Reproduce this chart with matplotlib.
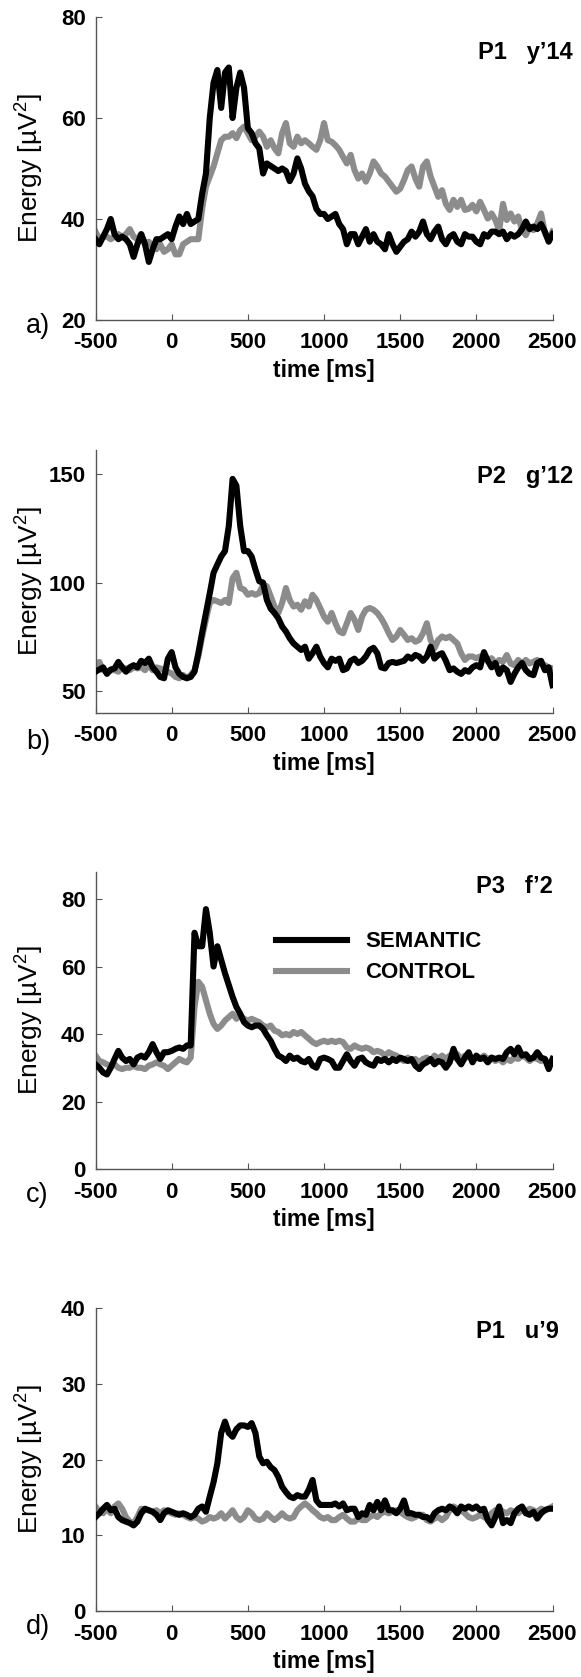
import numpy as np
import matplotlib
matplotlib.use("Agg")
from matplotlib import pyplot as plt

plt.rcParams['font.family'] = ['Liberation Sans', 'DejaVu Sans']
plt.rcParams['mathtext.fontset'] = 'custom'
plt.rcParams['mathtext.rm'] = 'Liberation Sans'
plt.rcParams['axes.unicode_minus'] = False

# time axis, sampled every 25 ms
t = np.arange(-500, 2501, 25)

# a) P1 y'14
a_sem = [36, 35, 36.5, 38, 40, 37, 36, 36.5, 36, 35,
         32.5, 35, 37, 35, 31.5, 34, 36, 36, 36.5, 37,
         36, 38.5, 40.5, 39, 41, 39, 39.5, 40, 45, 49,
         60, 67, 69.5, 62, 69, 70, 60, 66, 69, 66,
         58, 57, 55, 54, 49, 51, 50.5, 50, 49.5, 50,
         49.5, 47.5, 49, 52, 50, 47, 45.5, 44.5, 42, 41,
         41, 40, 40.5, 41, 39, 38, 35, 37, 37, 35,
         36.5, 38, 35.5, 37, 35.5, 35, 34, 37, 35, 33.5,
         34.5, 35.5, 36, 37.5, 36.5, 37.5, 39.5, 37, 36, 37.5,
         38.5, 36, 35, 36.5, 37, 35.5, 35, 37, 36.5, 36.5,
         35.5, 35, 37, 36.5, 37.5, 37.5, 37, 37.5, 36, 37,
         36.5, 37, 38, 39.5, 38, 38.5, 38, 39, 37.5, 35.5,
         37]
a_ctl = [37.5, 36, 36.5, 36.5, 36, 36.5, 37, 36.5, 37, 38,
         36.5, 36, 37, 35, 35.5, 34.5, 34, 35, 33.5, 34,
         35, 33, 33, 35, 35.5, 36, 36, 36, 42, 46.4,
         48.4, 50.4, 53, 55.6, 56.3, 56.3, 57, 56, 57.6, 58.3,
         57, 55.6, 56.3, 57.3, 56.3, 54.3, 55.6, 54, 53, 57,
         59, 55, 54.3, 56.3, 55, 55.6, 55, 54.3, 53.7, 55.6,
         59, 55.6, 55.3, 54.6, 53.7, 52.3, 51, 52.7, 49.7, 48,
         49, 47.4, 49, 51.4, 50.4, 49, 48.4, 47.4, 46.4, 45.4,
         46, 47.7, 49.7, 50.4, 48, 46.4, 50.4, 51.4, 48.4, 46.4,
         44.4, 45.7, 43, 41.8, 43.8, 42.4, 43.8, 41.8, 42, 42.8,
         41.5, 43.4, 41.8, 40.1, 41.1, 39.8, 37.8, 43, 39.8, 41.1,
         39.5, 40.5, 37.8, 36.8, 38.5, 37.8, 39.1, 41.1, 37.2, 35.8,
         37.5]

# b) P2 g'12
b_sem = [59, 60, 61, 58, 60, 60.5, 63.5, 61, 59, 61,
         62, 61, 64, 63, 65, 61, 59, 56.6, 56, 65,
         68, 61, 58, 56.6, 56, 56.6, 59, 67.5, 77, 86,
         95, 104.5, 108.3, 112, 114.5, 126, 147.7, 144.6, 126, 114.5,
         114.5, 112, 106, 100.6, 100, 92, 88, 86, 83.6, 79.8,
         77.5, 74.4, 72, 70.5, 69, 70.5, 65, 67.5, 70.5, 66,
         63, 61, 65, 64, 65, 59.7, 60.5, 64, 65, 63,
         64, 66, 69, 70, 67.5, 61, 60.5, 63, 63.5, 63,
         63.5, 64, 66, 65, 66.7, 66, 64, 66, 70.5, 65,
         66.7, 67.5, 64, 59.7, 60.5, 59, 58, 59.7, 59, 61,
         62, 61, 68, 64, 61, 63, 58, 61, 59.7, 54.3,
         58, 61, 63, 59.7, 58, 57.4, 63, 64, 59.7, 61,
         52.8]
b_ctl = [60.5, 63.5, 59.7, 59, 59.7, 59.7, 59, 61, 60.5, 59.7,
         61, 60.5, 61, 59.7, 62, 59.7, 61, 60.5, 59.7, 59,
         58.2, 56.6, 56, 57.5, 56, 57.5, 59.7, 66, 75, 83,
         90.6, 92, 91.4, 90.6, 92, 90.6, 102, 104.5, 97.5, 96.8,
         94.4, 95.2, 94.4, 95.2, 99, 98.3, 93.7, 89, 86, 90.6,
         97.5, 92, 89, 89.8, 87.5, 91.4, 89, 94.4, 92, 88.3,
         84.4, 82, 86, 81.3, 77.5, 76.7, 81.3, 86, 83, 78.2,
         84.4, 87.5, 88.3, 87.5, 86, 83.6, 80.5, 76.7, 73.6, 75.2,
         78.2, 76, 73.6, 74.4, 72.8, 73.6, 76.7, 81.3, 73.6, 69.8,
         73.6, 75.2, 74.4, 75.2, 73.6, 72, 67.5, 64.4, 66, 66,
         65.2, 66, 65.2, 64.4, 65.2, 62.8, 64.4, 63.6, 66.7, 62.8,
         62, 64.4, 62.8, 64.4, 62.8, 63.6, 64.4, 62.8, 62, 61,
         60.5]

# c) P3 f'2
c_sem = [31, 30, 28.6, 28, 30, 32.6, 35, 33, 32, 32.6,
         31, 33, 33.6, 33, 34.6, 37, 34.6, 32.6, 34.6, 34.6,
         35, 35.6, 36, 35.6, 36.6, 36.6, 70, 66, 66, 77,
         70, 60, 66, 62, 58, 54.5, 51, 48, 46, 43.5,
         42.5, 42, 42.5, 42.5, 41.5, 39.6, 38, 35.6, 33.6, 33,
         32, 33.6, 32.6, 33, 32, 31.6, 32.6, 30.6, 30, 32.6,
         33, 32.6, 32, 30, 30, 32, 34, 32, 30.6, 32.6,
         33, 31.6, 31, 30.6, 32.6, 32, 32.6, 31.6, 32.6, 32,
         33, 32.6, 32, 32.6, 30.6, 29.6, 31, 31.6, 32.6, 31,
         32, 31.6, 30, 31.6, 35.6, 32.6, 31, 33, 34.6, 31.6,
         33.6, 32.6, 33, 31.6, 33, 32.6, 33, 32.6, 34.6, 35.6,
         34, 36, 33.6, 34, 32.6, 33, 34.6, 33, 32.6, 29.6,
         32.6]
c_ctl = [33.6, 32, 31.6, 31, 30.6, 31, 30, 29.6, 30, 30,
         30.6, 30, 30, 29.6, 30.6, 31, 31.6, 31, 30.6, 29.6,
         30.6, 31.6, 32.6, 32, 31.6, 33, 48, 55.5, 54, 50,
         46, 43, 41.5, 42.5, 44, 45, 46, 44.5, 45.5, 44.5,
         44, 44.5, 44, 43.5, 42.5, 42, 42.5, 41, 40.6, 39.6,
         40, 39.6, 40.6, 40, 40.6, 39.6, 38.6, 37.6, 37, 37.6,
         38, 37.6, 38, 37.6, 38, 37.6, 36, 35.6, 36.6, 36,
         35.6, 36, 35.6, 34.6, 35, 34.6, 33.6, 34.6, 34, 33.6,
         32.6, 32, 33, 32, 32.6, 31.6, 32.6, 33, 32, 33.6,
         32.6, 33.6, 32.6, 33.6, 33, 34, 32.6, 33.6, 33, 32.6,
         33, 32.6, 33.6, 32.6, 33, 32, 32.6, 31.6, 32.6, 32,
         33, 32.6, 33.6, 33, 32, 33, 32.6, 32, 32.6, 31,
         32]

# d) P1 u'9
d_sem = [12.4, 12.9, 13.5, 14, 13.3, 13.5, 12.4, 12, 11.8, 11.6,
         11.3, 11.8, 12.9, 13.5, 13.3, 13.1, 12.7, 12, 12.9, 13.3,
         13.1, 12.9, 12.7, 12.9, 12.7, 12.4, 12.7, 13.5, 13.8, 13.1,
         15.1, 17, 19.5, 23.5, 25, 23.5, 23, 24, 24.5, 24.5,
         24.3, 24.8, 23.5, 20.4, 19.5, 19.7, 19, 18.6, 17.7, 16.4,
         15.7, 15.1, 14.9, 15.3, 15.1, 15.1, 16, 17.3, 14.6, 14,
         14, 14, 14, 14.2, 13.8, 14.2, 13.3, 13.5, 13.5, 12.4,
         12.9, 12.7, 14, 13.3, 14.4, 13.3, 14.6, 13.3, 13.3, 12.9,
         13.5, 14.6, 12.9, 12.9, 12.7, 12.7, 12.4, 12.4, 12, 12.9,
         13.3, 13.5, 13.3, 13.8, 13.5, 12.9, 13.8, 13.5, 13.8, 13.5,
         13.8, 13.3, 13.5, 12, 11.3, 12.4, 13.8, 11.6, 12, 11.6,
         12.9, 13.5, 13.8, 12.9, 12.7, 13.1, 12.2, 12.9, 13.3, 13.5,
         13.5]
d_ctl = [13.8, 13.1, 12.9, 13.5, 12.9, 13.8, 14.2, 13.5, 12.4, 11.8,
         11.6, 12.4, 13.5, 13.3, 13.3, 13.1, 13.3, 12.9, 13.3, 13.1,
         12.9, 12.7, 12.9, 12.7, 12.4, 12.2, 12.4, 12.2, 11.8, 12,
         12.4, 12.2, 12.4, 12.9, 12.2, 12.7, 13.3, 12.4, 12, 12.4,
         13.3, 12.9, 12.2, 12, 12.2, 12.9, 12.4, 12, 12.4, 12.9,
         12.4, 12.2, 12.4, 13.3, 13.8, 14.2, 13.8, 13.3, 12.9, 12.4,
         12.2, 12.4, 12, 12, 12.4, 12.7, 12.2, 11.8, 11.8, 12.2,
         12, 12, 12.4, 12.7, 12.4, 12.9, 13.1, 12.9, 13.1, 13.3,
         13.1, 12.7, 12.4, 12.2, 12.4, 12.7, 12.7, 12, 11.8, 12.2,
         12.4, 12, 12.4, 13.3, 13.8, 13.5, 13.3, 12.9, 12.4, 12.2,
         12.4, 12.7, 12.4, 12.2, 12.9, 13.3, 13.5, 13.1, 12.9, 13.3,
         13.1, 12.9, 13.3, 13.1, 13.5, 13.3, 13.1, 13.5, 13.3, 13.5,
         13.8]

titles = ["P1   y\u201914", "P2   g\u201912", "P3   f\u20192", "P1   u\u20199"]
letters = ["a)", "b)", "c)", "d)"]
ylims = [(20, 80), (40, 161), (0, 88), (0, 40)]
yticks = [[20, 40, 60, 80], [50, 100, 150], [0, 20, 40, 60, 80], [0, 10, 20, 30, 40]]
xticks = [-500, 0, 500, 1000, 1500, 2000, 2500]

W, H = 581, 1677
# axes boxes in pixels: (top, bottom)
boxes = [(17, 320), (450, 713), (872, 1169), (1308, 1611)]
ax_left, ax_right = 95.5, 552.5
# title position (right edge px, centre y px) and panel letter y
title_pos = [(573, 52), (573, 476), (553, 887), (559, 1331)]
letter_y = [326, 742, 1195, 1627]

BLACK = "#000000"
GRAY = "#8c8c8c"

fig = plt.figure(figsize=(W / 100, H / 100), dpi=100)

series = [(a_sem, a_ctl), (b_sem, b_ctl), (c_sem, c_ctl), (d_sem, d_ctl)]
for i, (sem, ctl) in enumerate(series):
    top, bot = boxes[i]
    ax = fig.add_axes([ax_left / W, 1 - bot / H, (ax_right - ax_left) / W, (bot - top) / H])
    ax.plot(t, ctl, color=GRAY, lw=4.4, solid_joinstyle='round', label="CONTROL", zorder=2)
    ax.plot(t, sem, color=BLACK, lw=4.4, solid_joinstyle='round', label="SEMANTIC", zorder=3)
    ax.set_xlim(-500, 2500)
    ax.set_ylim(*ylims[i])
    ax.set_xticks(xticks)
    ax.set_yticks(yticks[i])
    for s in ["top", "right"]:
        ax.spines[s].set_visible(False)
    for s in ["left", "bottom"]:
        ax.spines[s].set_color("#555555")
        ax.spines[s].set_linewidth(1.0)
    ax.tick_params(direction='in', length=4, width=0.8, color="#555555")
    ax.tick_params(axis='x', pad=9)
    ax.tick_params(axis='y', pad=7)
    for lab in ax.get_xticklabels() + ax.get_yticklabels():
        lab.set_fontsize(16)
        lab.set_fontweight('bold')
    ax.set_xlabel("time [ms]", fontsize=16.5, fontweight='bold', labelpad=4)
    ax.set_ylabel("Energy [\u00b5V$^{2}$]", fontsize=19)
    ax.yaxis.set_label_coords((45 - ax_left) / (ax_right - ax_left), 0.5)

    tx, ty = title_pos[i]
    fig.text(tx / W, 1 - ty / H, titles[i], ha='right', va='center',
             fontsize=17, fontweight='bold')
    fig.text(26 / W, 1 - letter_y[i] / H, letters[i], ha='left', va='center', fontsize=19.5)

    if i == 2:
        leg = ax.legend(handles=ax.get_lines()[::-1], loc='upper left',
                        bbox_to_anchor=(0.395, 0.80), frameon=False,
                        handlelength=3.2, handletextpad=0.8, labelspacing=0.45,
                        borderpad=0, borderaxespad=0,
                        prop={'size': 16, 'weight': 'bold'})

fig.savefig("out.png", dpi=100)
